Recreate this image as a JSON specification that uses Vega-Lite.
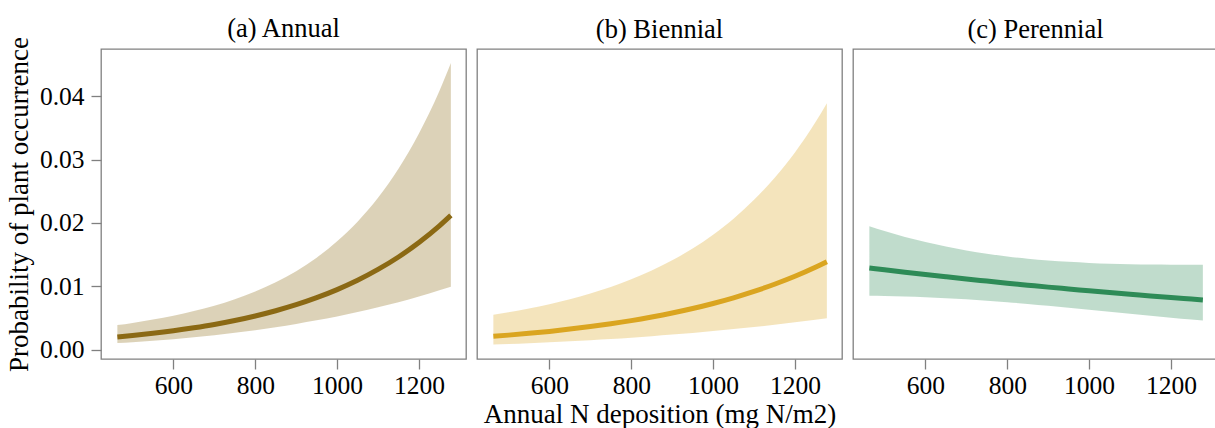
{
  "$schema": "https://vega.github.io/schema/vega-lite/v6.json",
  "padding": {"left": 4, "top": 15, "right": 0, "bottom": 0},
  "config": {
    "font": "Liberation Serif",
    "view": {"stroke": "#808080", "strokeWidth": 1.3},
    "concat": {"spacing": 9},
    "axis": {
      "labelFont": "Liberation Serif", "labelFontSize": 25.5, "labelColor": "#000000",
      "titleFont": "Liberation Serif", "titleFontSize": 27, "titleFontWeight": "normal", "titleColor": "#000000",
      "domain": false, "grid": false, "tickColor": "#808080", "tickSize": 10, "tickWidth": 1.3
    },
    "title": {"font": "Liberation Serif", "fontSize": 26.5, "fontWeight": "normal", "color": "#000000", "offset": 6, "frame": "group"}
  },
  "data": {"values": [
    {"type": "Annual", "x": 463, "mean": 0.00200, "lower": 0.00103, "upper": 0.00387},
    {"type": "Annual", "x": 500, "mean": 0.00223, "lower": 0.00118, "upper": 0.00422},
    {"type": "Annual", "x": 550, "mean": 0.00257, "lower": 0.00139, "upper": 0.00474},
    {"type": "Annual", "x": 600, "mean": 0.00297, "lower": 0.00165, "upper": 0.00536},
    {"type": "Annual", "x": 650, "mean": 0.00344, "lower": 0.00194, "upper": 0.00609},
    {"type": "Annual", "x": 700, "mean": 0.00397, "lower": 0.00227, "upper": 0.00694},
    {"type": "Annual", "x": 750, "mean": 0.00459, "lower": 0.00265, "upper": 0.00796},
    {"type": "Annual", "x": 800, "mean": 0.00531, "lower": 0.00307, "upper": 0.00918},
    {"type": "Annual", "x": 850, "mean": 0.00614, "lower": 0.00354, "upper": 0.01065},
    {"type": "Annual", "x": 900, "mean": 0.00709, "lower": 0.00406, "upper": 0.01239},
    {"type": "Annual", "x": 950, "mean": 0.00820, "lower": 0.00463, "upper": 0.01452},
    {"type": "Annual", "x": 1000, "mean": 0.00948, "lower": 0.00525, "upper": 0.01710},
    {"type": "Annual", "x": 1050, "mean": 0.01095, "lower": 0.00593, "upper": 0.02020},
    {"type": "Annual", "x": 1100, "mean": 0.01266, "lower": 0.00668, "upper": 0.02398},
    {"type": "Annual", "x": 1150, "mean": 0.01463, "lower": 0.00749, "upper": 0.02856},
    {"type": "Annual", "x": 1200, "mean": 0.01692, "lower": 0.00839, "upper": 0.03413},
    {"type": "Annual", "x": 1250, "mean": 0.01955, "lower": 0.00936, "upper": 0.04084},
    {"type": "Annual", "x": 1278, "mean": 0.02120, "lower": 0.00994, "upper": 0.04524},
    {"type": "Biennial", "x": 463, "mean": 0.00210, "lower": 0.00080, "upper": 0.00549},
    {"type": "Biennial", "x": 500, "mean": 0.00229, "lower": 0.00089, "upper": 0.00589},
    {"type": "Biennial", "x": 550, "mean": 0.00257, "lower": 0.00102, "upper": 0.00649},
    {"type": "Biennial", "x": 600, "mean": 0.00288, "lower": 0.00116, "upper": 0.00717},
    {"type": "Biennial", "x": 650, "mean": 0.00324, "lower": 0.00132, "upper": 0.00797},
    {"type": "Biennial", "x": 700, "mean": 0.00364, "lower": 0.00149, "upper": 0.00888},
    {"type": "Biennial", "x": 750, "mean": 0.00408, "lower": 0.00168, "upper": 0.00990},
    {"type": "Biennial", "x": 800, "mean": 0.00458, "lower": 0.00189, "upper": 0.01110},
    {"type": "Biennial", "x": 850, "mean": 0.00515, "lower": 0.00212, "upper": 0.01250},
    {"type": "Biennial", "x": 900, "mean": 0.00578, "lower": 0.00237, "upper": 0.01410},
    {"type": "Biennial", "x": 950, "mean": 0.00649, "lower": 0.00264, "upper": 0.01597},
    {"type": "Biennial", "x": 1000, "mean": 0.00729, "lower": 0.00293, "upper": 0.01815},
    {"type": "Biennial", "x": 1050, "mean": 0.00818, "lower": 0.00324, "upper": 0.02067},
    {"type": "Biennial", "x": 1100, "mean": 0.00919, "lower": 0.00357, "upper": 0.02365},
    {"type": "Biennial", "x": 1150, "mean": 0.01032, "lower": 0.00393, "upper": 0.02711},
    {"type": "Biennial", "x": 1200, "mean": 0.01158, "lower": 0.00431, "upper": 0.03114},
    {"type": "Biennial", "x": 1250, "mean": 0.01301, "lower": 0.00471, "upper": 0.03591},
    {"type": "Biennial", "x": 1278, "mean": 0.01388, "lower": 0.00496, "upper": 0.03891},
    {"type": "Perennial", "x": 463, "mean": 0.01289, "lower": 0.00852, "upper": 0.01949},
    {"type": "Perennial", "x": 500, "mean": 0.01260, "lower": 0.00848, "upper": 0.01874},
    {"type": "Perennial", "x": 550, "mean": 0.01222, "lower": 0.00838, "upper": 0.01780},
    {"type": "Perennial", "x": 600, "mean": 0.01186, "lower": 0.00827, "upper": 0.01701},
    {"type": "Perennial", "x": 650, "mean": 0.01150, "lower": 0.00812, "upper": 0.01628},
    {"type": "Perennial", "x": 700, "mean": 0.01115, "lower": 0.00794, "upper": 0.01565},
    {"type": "Perennial", "x": 750, "mean": 0.01082, "lower": 0.00773, "upper": 0.01515},
    {"type": "Perennial", "x": 800, "mean": 0.01049, "lower": 0.00748, "upper": 0.01471},
    {"type": "Perennial", "x": 850, "mean": 0.01018, "lower": 0.00722, "upper": 0.01436},
    {"type": "Perennial", "x": 900, "mean": 0.00987, "lower": 0.00692, "upper": 0.01407},
    {"type": "Perennial", "x": 950, "mean": 0.00958, "lower": 0.00662, "upper": 0.01386},
    {"type": "Perennial", "x": 1000, "mean": 0.00929, "lower": 0.00630, "upper": 0.01369},
    {"type": "Perennial", "x": 1050, "mean": 0.00901, "lower": 0.00598, "upper": 0.01358},
    {"type": "Perennial", "x": 1100, "mean": 0.00874, "lower": 0.00566, "upper": 0.01349},
    {"type": "Perennial", "x": 1150, "mean": 0.00848, "lower": 0.00534, "upper": 0.01345},
    {"type": "Perennial", "x": 1200, "mean": 0.00822, "lower": 0.00504, "upper": 0.01342},
    {"type": "Perennial", "x": 1250, "mean": 0.00798, "lower": 0.00474, "upper": 0.01342},
    {"type": "Perennial", "x": 1278, "mean": 0.00784, "lower": 0.00458, "upper": 0.01342}
  ]},
  "hconcat": [
    {
      "title": {"text": "(a) Annual", "offset": -6.5},
      "width": 365, "height": 310,
      "transform": [{"filter": "datum.type === 'Annual'"}],
      "layer": [
        {
          "mark": {"type": "area", "color": "#8B6914", "opacity": 0.3, "interpolate": "monotone"},
          "encoding": {
            "x": {"field": "x", "type": "quantitative", "scale": {"domain": [423, 1315], "nice": false, "zero": false}, "axis": {"values": [600, 800, 1000, 1200], "format": "d", "title": null, "labelPadding": 4}},
            "y": {"field": "lower", "type": "quantitative", "scale": {"domain": [-0.00148, 0.04747], "nice": false, "zero": false}, "axis": {"values": [0, 0.01, 0.02, 0.03, 0.04], "format": ".2f", "title": "Probability of plant occurrence", "labelPadding": 7, "titlePadding": 6}},
            "y2": {"field": "upper"}
          }
        },
        {
          "mark": {"type": "line", "color": "#8B6914", "strokeWidth": 5, "interpolate": "monotone"},
          "encoding": {
            "x": {"field": "x", "type": "quantitative"},
            "y": {"field": "mean", "type": "quantitative"}
          }
        }
      ]
    },
    {
      "title": "(b) Biennial",
      "width": 365, "height": 310,
      "transform": [{"filter": "datum.type === 'Biennial'"}],
      "layer": [
        {
          "mark": {"type": "area", "color": "#DAA520", "opacity": 0.3, "interpolate": "monotone"},
          "encoding": {
            "x": {"field": "x", "type": "quantitative", "scale": {"domain": [423, 1315], "nice": false, "zero": false}, "axis": {"values": [600, 800, 1000, 1200], "format": "d", "title": "Annual N deposition (mg N/m2)", "labelPadding": 4, "titlePadding": 3}},
            "y": {"field": "lower", "type": "quantitative", "scale": {"domain": [-0.00148, 0.04747], "nice": false, "zero": false}, "axis": null},
            "y2": {"field": "upper"}
          }
        },
        {
          "mark": {"type": "line", "color": "#DAA520", "strokeWidth": 5, "interpolate": "monotone"},
          "encoding": {
            "x": {"field": "x", "type": "quantitative"},
            "y": {"field": "mean", "type": "quantitative"}
          }
        }
      ]
    },
    {
      "title": "(c) Perennial",
      "width": 365, "height": 310,
      "transform": [{"filter": "datum.type === 'Perennial'"}],
      "layer": [
        {
          "mark": {"type": "area", "color": "#2E8B57", "opacity": 0.3, "interpolate": "monotone"},
          "encoding": {
            "x": {"field": "x", "type": "quantitative", "scale": {"domain": [423, 1315], "nice": false, "zero": false}, "axis": {"values": [600, 800, 1000, 1200], "format": "d", "title": null, "labelPadding": 4}},
            "y": {"field": "lower", "type": "quantitative", "scale": {"domain": [-0.00148, 0.04747], "nice": false, "zero": false}, "axis": null},
            "y2": {"field": "upper"}
          }
        },
        {
          "mark": {"type": "line", "color": "#2E8B57", "strokeWidth": 5, "interpolate": "monotone"},
          "encoding": {
            "x": {"field": "x", "type": "quantitative"},
            "y": {"field": "mean", "type": "quantitative"}
          }
        }
      ]
    }
  ]
}
